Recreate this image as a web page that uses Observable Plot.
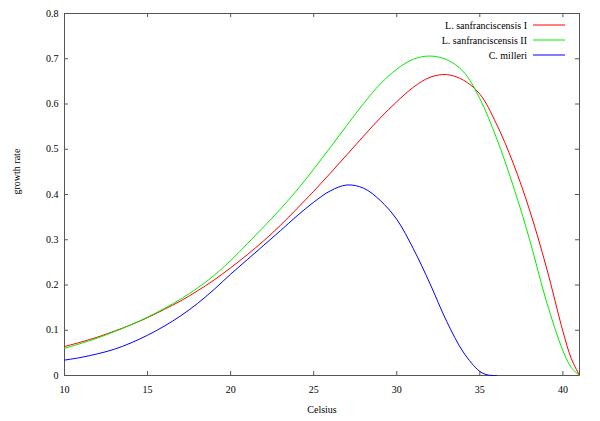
<!DOCTYPE html>
<html>
<head>
<meta charset="utf-8">
<script src="https://cdn.jsdelivr.net/npm/d3@7"></script>
<script src="https://cdn.jsdelivr.net/npm/@observablehq/plot@0.6"></script>
<style>
  html, body { margin: 0; padding: 0; background: #fff; }
  svg, svg text { font-family: "Liberation Serif", "Times New Roman", Times, serif !important; }
</style>
</head>
<body>
<div id="chart"></div>
<script>
const seriesNames = ["L. sanfranciscensis I", "L. sanfranciscensis II", "C. milleri"];
const seriesColors = ["#ff0000", "#00ee00", "#0000ff"];

const tempsL = [10,11,12,13,14,15,16,17,18,19,20,21,22,23,24,25,26,27,28,29,30,31,32,33,34,35,36,37,38,39,40,40.5,41];
const lsI  = [0.064,0.074,0.085,0.098,0.112,0.128,0.146,0.165,0.187,0.211,0.238,0.267,0.298,0.332,0.369,0.407,0.447,0.488,0.529,0.569,0.605,0.637,0.659,0.665,0.653,0.622,0.556,0.470,0.365,0.240,0.098,0.038,0];
const lsII = [0.060,0.071,0.083,0.097,0.112,0.129,0.148,0.169,0.193,0.221,0.254,0.291,0.329,0.368,0.410,0.456,0.504,0.553,0.601,0.644,0.677,0.699,0.706,0.698,0.672,0.612,0.525,0.420,0.300,0.165,0.055,0.018,0];

const tempsC = [10,11,12,13,14,15,16,17,18,19,20,21,22,23,24,25,26,27,28,29,30,31,32,33,34,35,35.5,36];
const cm = [0.034,0.040,0.048,0.058,0.072,0.089,0.109,0.132,0.159,0.190,0.224,0.256,0.288,0.320,0.353,0.383,0.408,0.421,0.414,0.387,0.345,0.280,0.203,0.120,0.052,0.009,0.001,0];

const xTicks = [10,15,20,25,30,35,40];
const yTicks = [0,0.1,0.2,0.3,0.4,0.5,0.6,0.7,0.8];
const yTickLabels = ["0","0.1","0.2","0.3","0.4","0.5","0.6","0.7","0.8"];

const data = [
  ...tempsL.map((t, i) => ({t, v: lsI[i], s: seriesNames[0]})),
  ...tempsL.map((t, i) => ({t, v: lsII[i], s: seriesNames[1]})),
  ...tempsC.map((t, i) => ({t, v: cm[i], s: seriesNames[2]}))
];

const W = 600, H = 421;
const mL = 64, mR = 21, mT = 13, mB = 46;
const plotW = W - mL - mR, plotH = H - mT - mB;
const tickLen = 4;
const frameColor = "#555";
const FONT = "'Liberation Serif', 'Times New Roman', Times, serif";

function legend(index, scales, values, dims) {
  const g = d3.create("svg:g").attr("font-size", 10).style("font-family", FONT);
  const right = dims.width - dims.marginRight;
  seriesNames.forEach((name, i) => {
    const y = dims.marginTop + 12 + i * 15;
    g.append("text")
      .attr("x", right - 52).attr("y", y)
      .attr("text-anchor", "end").attr("dy", "0.35em")
      .attr("fill", "#000")
      .text(name);
    g.append("line")
      .attr("x1", right - 46).attr("x2", right - 14)
      .attr("y1", y).attr("y2", y)
      .attr("stroke", seriesColors[i]).attr("stroke-width", 1);
  });
  return g.node();
}

const chart = Plot.plot({
  width: W, height: H,
  marginLeft: mL, marginRight: mR, marginTop: mT, marginBottom: mB,
  style: {fontFamily: FONT, fontSize: "10px", background: "#fff"},
  x: {domain: [10, 41]},
  y: {domain: [0, 0.8]},
  color: {domain: seriesNames, range: seriesColors},
  marks: [
    Plot.frame({stroke: frameColor, strokeWidth: 1}),
    Plot.tickX(xTicks, {x: d => d, stroke: frameColor, insetTop: plotH - tickLen}),
    Plot.tickX(xTicks, {x: d => d, stroke: frameColor, insetBottom: plotH - tickLen}),
    Plot.tickY(yTicks, {y: d => d, stroke: frameColor, insetRight: plotW - tickLen}),
    Plot.tickY(yTicks, {y: d => d, stroke: frameColor, insetLeft: plotW - tickLen}),
    Plot.axisX({ticks: xTicks, tickSize: 0, tickPadding: 10, label: null, fontSize: 10}),
    Plot.axisY({ticks: yTicks, tickSize: 0, tickPadding: 6, label: null, fontSize: 10,
      tickFormat: d => yTickLabels[yTicks.indexOf(d)]}),
    Plot.text(["Celsius"], {frameAnchor: "bottom", dy: 37, fontSize: 10, fill: "#000"}),
    Plot.text(["growth rate"], {frameAnchor: "left", dx: -48, rotate: -90, fontSize: 10, fill: "#000"}),
    Plot.line(data, {x: "t", y: "v", z: "s", stroke: "s", strokeWidth: 1, curve: "catmull-rom"}),
    legend
  ]
});
document.getElementById("chart").appendChild(chart);
</script>
</body>
</html>
